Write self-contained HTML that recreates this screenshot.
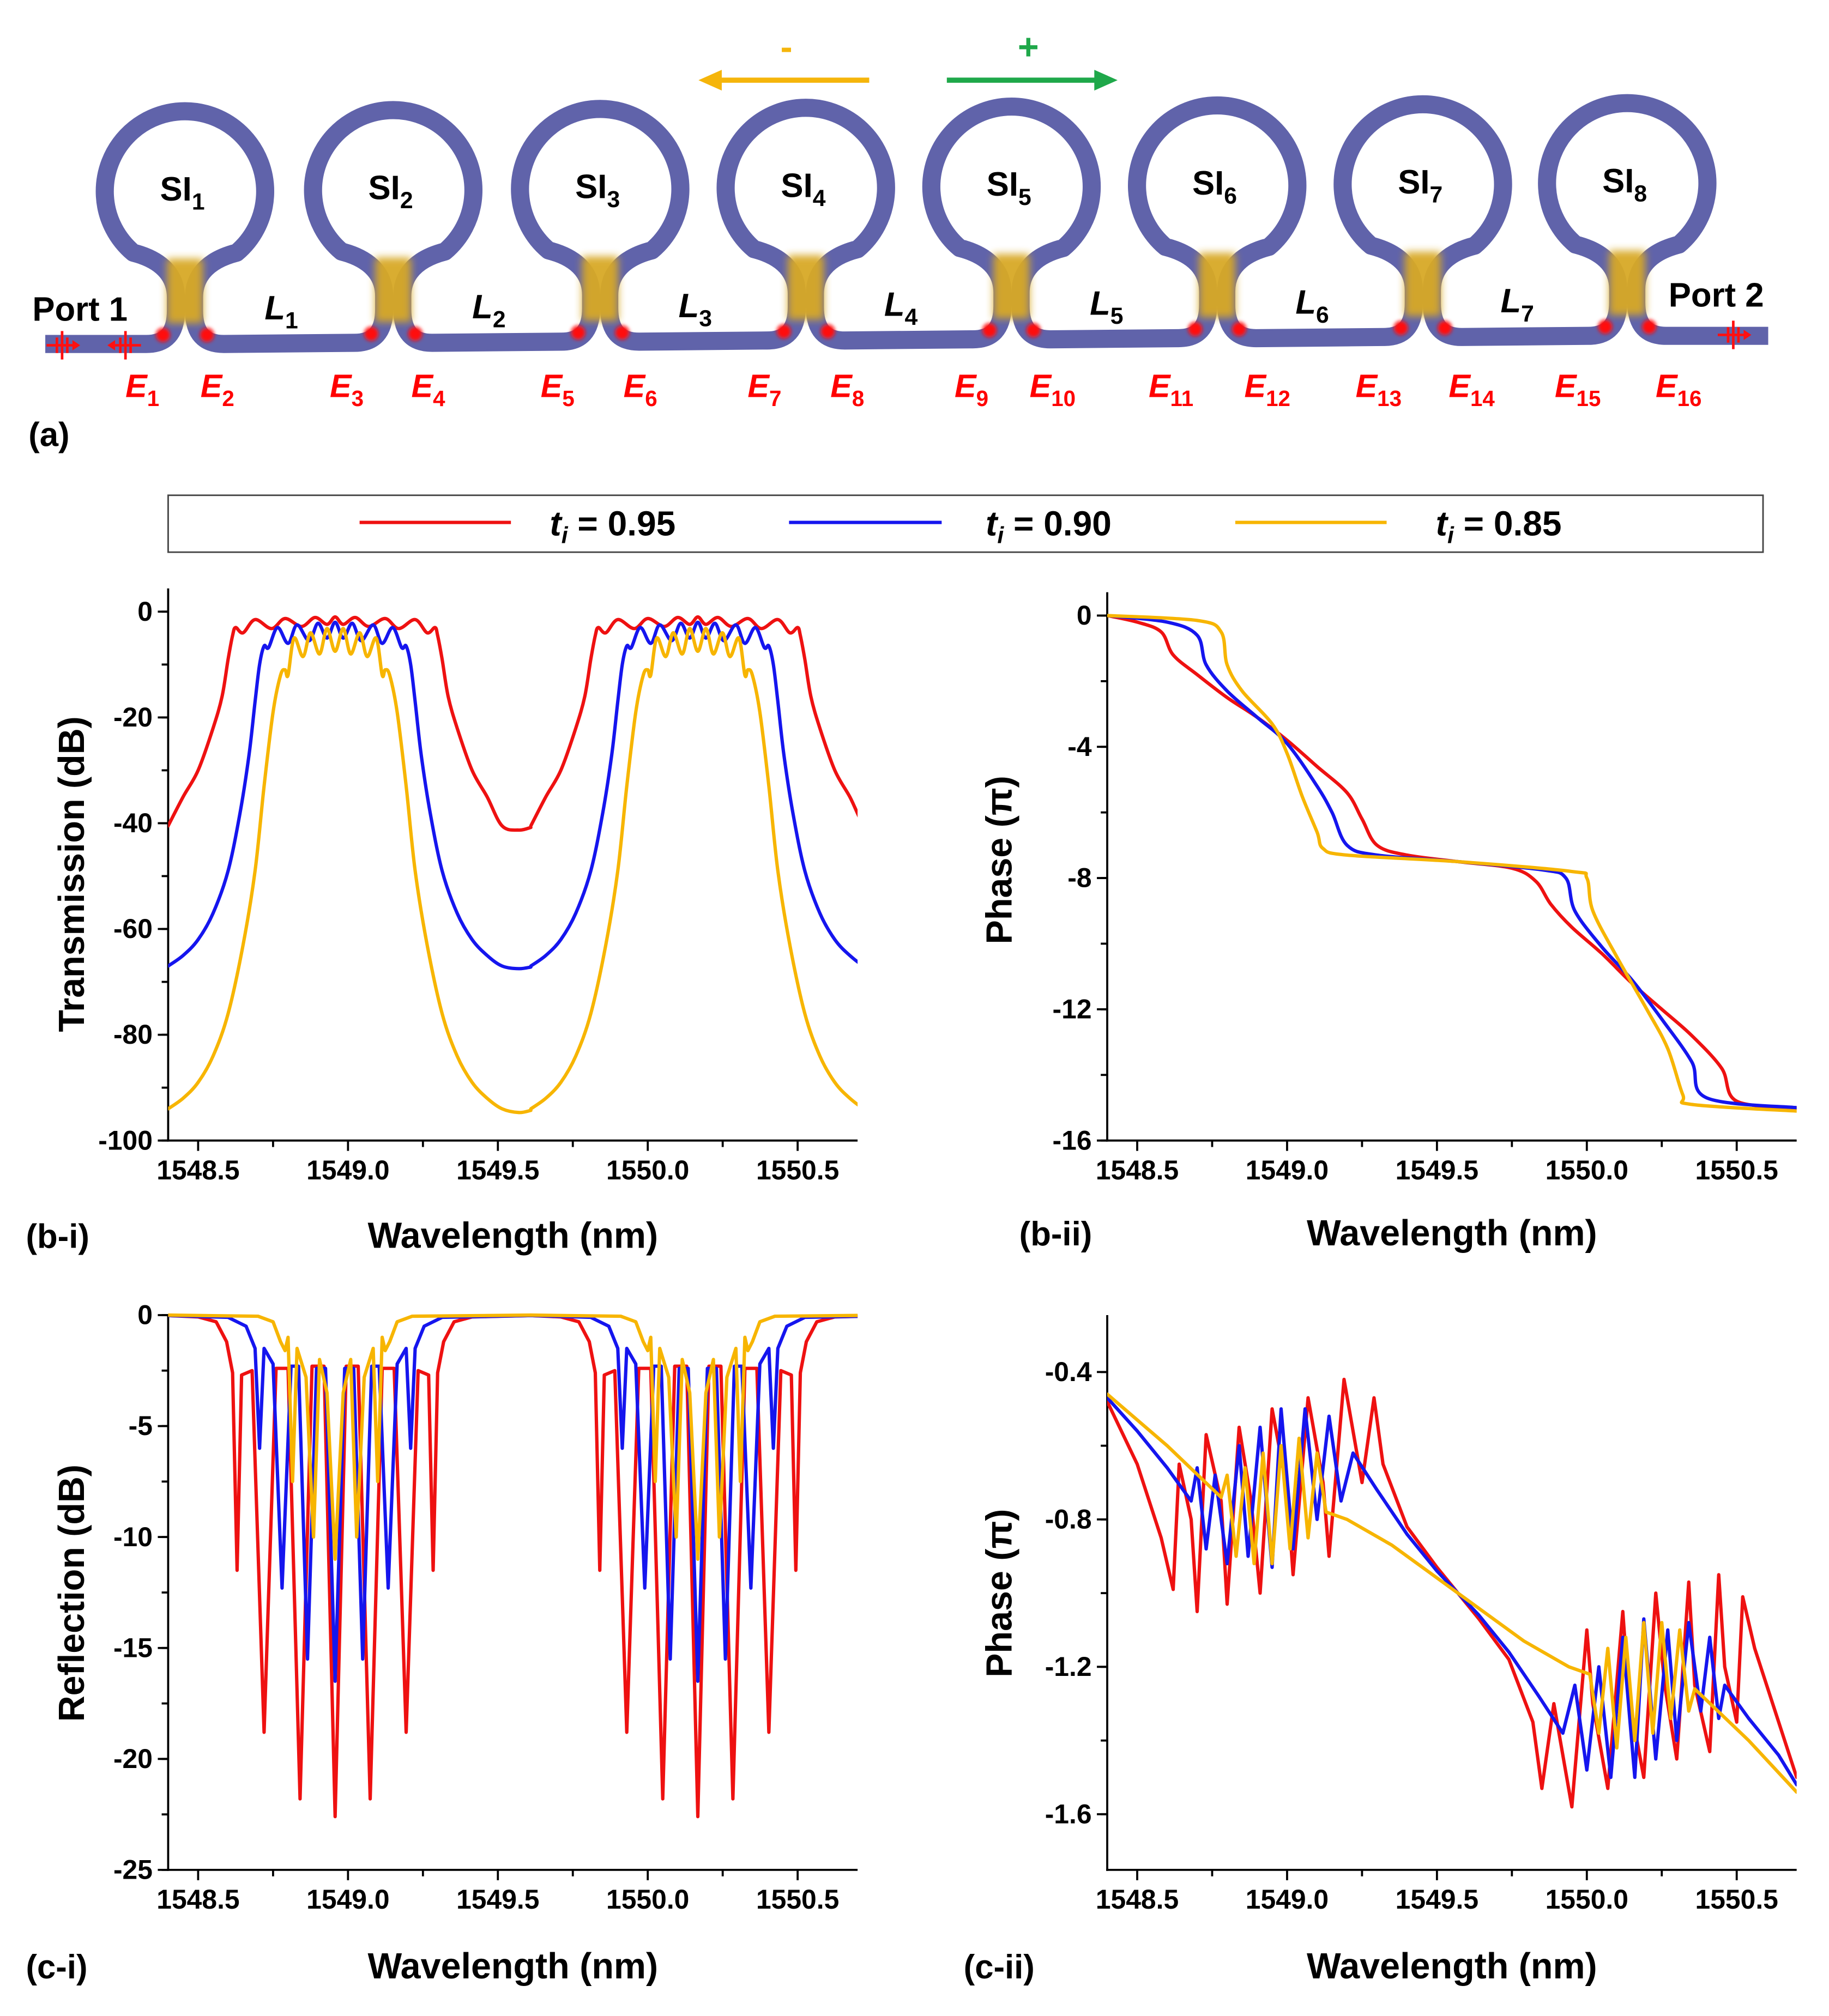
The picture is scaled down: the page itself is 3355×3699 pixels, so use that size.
<!DOCTYPE html>
<html><head><meta charset="utf-8"><style>
html,body{margin:0;padding:0;background:#fff;}
svg{display:block;}
text{font-family:"Liberation Sans",Arial,sans-serif;font-weight:bold;}
</style></head><body>
<svg id="fig" xmlns="http://www.w3.org/2000/svg" width="3355" height="3699" viewBox="0 0 1414 1559" preserveAspectRatio="none">
<defs>
<filter id="blur4" x="-50%" y="-50%" width="200%" height="200%"><feGaussianBlur stdDeviation="3"/></filter>
<filter id="blur2" x="-50%" y="-50%" width="200%" height="200%"><feGaussianBlur stdDeviation="1.5"/></filter>
</defs>
<g id="diagram"></g>
<g>
<line x1="556" y1="62" x2="672" y2="62" stroke="#f5b50b" stroke-width="4"/>
<polygon points="540,62 558,54 558,70" fill="#f5b50b"/>
<text x="608" y="46" font-size="28" fill="#f5b50b" text-anchor="middle">-</text>
<line x1="732" y1="62" x2="848" y2="62" stroke="#1fa84a" stroke-width="4"/>
<polygon points="864,62 846,54 846,70" fill="#1fa84a"/>
<text x="795" y="46" font-size="28" fill="#1fa84a" text-anchor="middle">+</text>
</g>
<text x="22" y="345" font-size="26">(a)</text>
<g>
<rect x="130" y="383" width="1233" height="44" fill="#fff" stroke="#444" stroke-width="1.2"/>
<g><line x1="278" y1="404" x2="395" y2="404" stroke="#ee1111" stroke-width="2.6"/>
<text x="425" y="414" font-size="27"><tspan font-style="italic">t</tspan><tspan font-style="italic" font-size="18" dy="6">i</tspan><tspan dy="-6"> = 0.95</tspan></text></g>
<g><line x1="610" y1="404" x2="728" y2="404" stroke="#1515ee" stroke-width="2.6"/>
<text x="762" y="414" font-size="27"><tspan font-style="italic">t</tspan><tspan font-style="italic" font-size="18" dy="6">i</tspan><tspan dy="-6"> = 0.90</tspan></text></g>
<g><line x1="955" y1="404" x2="1072" y2="404" stroke="#f7b500" stroke-width="2.6"/>
<text x="1110" y="414" font-size="27"><tspan font-style="italic">t</tspan><tspan font-style="italic" font-size="18" dy="6">i</tspan><tspan dy="-6"> = 0.85</tspan></text></g>
</g>
<g id="charts"></g>
</svg>
<script>
const xTickLabels = ["1548.5","1549.0","1549.5","1550.0","1550.5"];
const xTicks = [1548.5,1549.0,1549.5,1550.0,1550.5];
const bandOffsets = [0, 1.21];

const transRed = [[1548.40,-40.5],[1548.45,-35],[1548.50,-30],[1548.55,-22],[1548.58,-16],[1548.60,-9],[1548.615,-4.5],[1548.625,-3],[1548.65,-4],[1548.69,-1.5],[1548.745,-3.2],[1548.79,-1.3],[1548.845,-2.8],[1548.89,-1.1],[1548.93,-2.4],[1548.957,-1.0],[1548.984,-2.4],[1549.024,-1.1],[1549.069,-2.8],[1549.124,-1.3],[1549.169,-3.2],[1549.224,-1.5],[1549.264,-4],[1549.29,-3],[1549.299,-4.5],[1549.314,-9],[1549.334,-16],[1549.364,-22],[1549.414,-30],[1549.464,-35],[1549.514,-40.5],[1549.57,-41.3],[1549.61,-40.8]];
const transBlue = [[1548.40,-67],[1548.45,-65],[1548.50,-62],[1548.55,-57],[1548.60,-49],[1548.64,-38],[1548.67,-27],[1548.69,-17],[1548.705,-10],[1548.72,-6.5],[1548.735,-6.8],[1548.765,-3],[1548.80,-6],[1548.83,-2.5],[1548.87,-5.5],[1548.90,-2.2],[1548.93,-5],[1548.957,-2],[1548.984,-5],[1549.014,-2.2],[1549.044,-5.5],[1549.084,-2.5],[1549.114,-6],[1549.149,-3],[1549.179,-6.8],[1549.194,-6.5],[1549.209,-10],[1549.224,-17],[1549.244,-27],[1549.274,-38],[1549.314,-49],[1549.364,-57],[1549.414,-62],[1549.464,-65],[1549.514,-67],[1549.57,-67.5],[1549.61,-67.2]];
const transYellow = [[1548.40,-94],[1548.45,-92],[1548.50,-89],[1548.55,-84],[1548.60,-76],[1548.65,-63],[1548.69,-49],[1548.72,-33],[1548.75,-19],[1548.775,-12],[1548.79,-11],[1548.80,-12],[1548.82,-5],[1548.85,-8.5],[1548.875,-4],[1548.905,-8],[1548.93,-3.2],[1548.957,-7.5],[1548.984,-3.2],[1549.009,-8],[1549.039,-4],[1549.064,-8.5],[1549.094,-5],[1549.114,-12],[1549.124,-11],[1549.139,-12],[1549.164,-19],[1549.194,-33],[1549.224,-49],[1549.264,-63],[1549.314,-76],[1549.364,-84],[1549.414,-89],[1549.464,-92],[1549.514,-94],[1549.57,-94.7],[1549.61,-94.3]];

const phaseTRed = [[1548.4,0],[1548.5,-0.2],[1548.58,-0.5],[1548.62,-1.2],[1548.7,-1.8],[1548.8,-2.5],[1548.9,-3.1],[1549.0,-3.8],[1549.1,-4.6],[1549.2,-5.4],[1549.25,-6.2],[1549.3,-7.0],[1549.4,-7.3],[1549.57,-7.5],[1549.75,-7.7],[1549.83,-8.1],[1549.88,-8.8],[1549.95,-9.5],[1550.05,-10.3],[1550.15,-11.2],[1550.25,-12],[1550.35,-12.8],[1550.45,-13.8],[1550.5,-14.8],[1550.7,-15]];
const phaseTBlue = [[1548.4,0],[1548.6,-0.2],[1548.7,-0.6],[1548.73,-1.5],[1548.8,-2.3],[1548.9,-3.1],[1549.0,-3.9],[1549.1,-5.2],[1549.15,-6.0],[1549.2,-7.0],[1549.3,-7.3],[1549.57,-7.5],[1549.85,-7.75],[1549.93,-8.0],[1549.96,-9.0],[1550.05,-10.1],[1550.15,-11.1],[1550.25,-12.3],[1550.35,-13.6],[1550.4,-14.7],[1550.7,-15]];
const phaseTYellow = [[1548.4,0],[1548.7,-0.15],[1548.78,-0.5],[1548.8,-1.5],[1548.85,-2.3],[1548.95,-3.3],[1549.0,-4.2],[1549.05,-5.5],[1549.1,-6.6],[1549.12,-7.1],[1549.2,-7.3],[1549.57,-7.5],[1549.95,-7.8],[1550.0,-8.0],[1550.02,-9.0],[1550.1,-10.4],[1550.2,-12.0],[1550.27,-13.2],[1550.32,-14.6],[1550.35,-14.9],[1550.7,-15.1]];

const reflRed = [[1548.40,-0.02],[1548.50,-0.08],[1548.56,-0.3],[1548.595,-1.2],[1548.615,-2.6],[1548.63,-11.5],[1548.645,-2.7],[1548.68,-2.5],[1548.72,-18.8],[1548.76,-2.4],[1548.80,-2.4],[1548.84,-21.8],[1548.88,-2.3],[1548.92,-2.3],[1548.957,-22.6],[1548.994,-2.3],[1549.034,-2.3],[1549.074,-21.8],[1549.114,-2.4],[1549.154,-2.4],[1549.194,-18.8],[1549.234,-2.5],[1549.269,-2.7],[1549.284,-11.5],[1549.299,-2.6],[1549.319,-1.2],[1549.354,-0.3],[1549.414,-0.08],[1549.61,-0.02]];
const reflBlue = [[1548.40,-0.02],[1548.60,-0.1],[1548.66,-0.5],[1548.69,-1.5],[1548.705,-6],[1548.72,-1.5],[1548.75,-2.2],[1548.78,-12.3],[1548.81,-2.3],[1548.835,-2.3],[1548.865,-15.5],[1548.895,-2.4],[1548.925,-2.4],[1548.957,-16.5],[1548.989,-2.4],[1549.019,-2.4],[1549.049,-15.5],[1549.079,-2.3],[1549.104,-2.3],[1549.134,-12.3],[1549.164,-2.2],[1549.194,-1.5],[1549.209,-6],[1549.224,-1.5],[1549.254,-0.5],[1549.314,-0.1],[1549.61,-0.02]];
const reflYellow = [[1548.40,0],[1548.70,-0.05],[1548.75,-0.3],[1548.775,-1.2],[1548.79,-1.6],[1548.80,-1.0],[1548.815,-7.5],[1548.83,-1.5],[1548.86,-2.8],[1548.885,-10],[1548.905,-2.0],[1548.93,-3.5],[1548.957,-11],[1548.984,-3.5],[1549.009,-2.0],[1549.029,-10],[1549.054,-2.8],[1549.084,-1.5],[1549.099,-7.5],[1549.114,-1.0],[1549.124,-1.6],[1549.139,-1.2],[1549.164,-0.3],[1549.214,-0.05],[1549.61,0]];

const phaseRRed = [[1548.4,-0.48],[1548.5,-0.65],[1548.58,-0.85],[1548.62,-0.99],[1548.64,-0.65],[1548.68,-0.8],[1548.7,-1.05],[1548.73,-0.57],[1548.78,-0.75],[1548.8,-1.03],[1548.84,-0.55],[1548.88,-0.75],[1548.91,-1.0],[1548.95,-0.5],[1549.0,-0.72],[1549.02,-0.95],[1549.07,-0.47],[1549.12,-0.7],[1549.14,-0.9],[1549.19,-0.42],[1549.25,-0.7],[1549.29,-0.47],[1549.32,-0.65],[1549.4,-0.82],[1549.5,-0.93],[1549.57,-1.0],[1549.64,-1.07],[1549.74,-1.18],[1549.82,-1.35],[1549.85,-1.53],[1549.89,-1.3],[1549.95,-1.58],[1550.0,-1.1],[1550.02,-1.3],[1550.07,-1.53],[1550.12,-1.05],[1550.14,-1.28],[1550.19,-1.5],[1550.23,-1.0],[1550.26,-1.25],[1550.30,-1.45],[1550.34,-0.97],[1550.36,-1.25],[1550.41,-1.43],[1550.44,-0.95],[1550.46,-1.2],[1550.5,-1.35],[1550.52,-1.01],[1550.56,-1.15],[1550.64,-1.35],[1550.7,-1.5]];
const phaseRBlue = [[1548.4,-0.47],[1548.5,-0.56],[1548.6,-0.66],[1548.68,-0.75],[1548.7,-0.66],[1548.73,-0.88],[1548.76,-0.68],[1548.8,-0.92],[1548.84,-0.6],[1548.87,-0.9],[1548.91,-0.55],[1548.95,-0.93],[1548.98,-0.5],[1549.02,-0.88],[1549.06,-0.5],[1549.1,-0.8],[1549.14,-0.52],[1549.18,-0.75],[1549.22,-0.62],[1549.3,-0.72],[1549.4,-0.84],[1549.5,-0.94],[1549.57,-1.0],[1549.64,-1.06],[1549.74,-1.16],[1549.84,-1.28],[1549.92,-1.38],[1549.96,-1.25],[1550.0,-1.48],[1550.04,-1.2],[1550.08,-1.5],[1550.12,-1.12],[1550.16,-1.5],[1550.19,-1.07],[1550.23,-1.45],[1550.27,-1.1],[1550.3,-1.4],[1550.34,-1.08],[1550.38,-1.32],[1550.41,-1.12],[1550.44,-1.34],[1550.46,-1.25],[1550.54,-1.34],[1550.64,-1.44],[1550.7,-1.52]];
const phaseRYellow = [[1548.4,-0.46],[1548.6,-0.6],[1548.78,-0.74],[1548.8,-0.68],[1548.83,-0.9],[1548.86,-0.66],[1548.89,-0.92],[1548.92,-0.62],[1548.95,-0.92],[1548.98,-0.6],[1549.01,-0.88],[1549.04,-0.58],[1549.07,-0.85],[1549.1,-0.62],[1549.13,-0.78],[1549.2,-0.8],[1549.35,-0.87],[1549.57,-1.0],[1549.79,-1.13],[1549.94,-1.2],[1550.01,-1.22],[1550.04,-1.38],[1550.07,-1.15],[1550.1,-1.42],[1550.13,-1.12],[1550.16,-1.4],[1550.19,-1.08],[1550.22,-1.38],[1550.25,-1.08],[1550.28,-1.34],[1550.31,-1.1],[1550.34,-1.32],[1550.36,-1.26],[1550.54,-1.4],[1550.7,-1.54]];

const yTicksBi = [0,-20,-40,-60,-80,-100];
const yTickLabelsBi = ["0","-20","-40","-60","-80","-100"];
const yTicksBii = [0,-4,-8,-12,-16];
const yTickLabelsBii = ["0","-4","-8","-12","-16"];
const yTicksCi = [0,-5,-10,-15,-20,-25];
const yTickLabelsCi = ["0","-5","-10","-15","-20","-25"];
const yTicksCii = [-0.4,-0.8,-1.2,-1.6];
const yTickLabelsCii = ["-0.4","-0.8","-1.2","-1.6"];

const COLORS = {red:"#ee1111", blue:"#1515ee", yellow:"#f7b500"};
const NS = "http://www.w3.org/2000/svg";

function mk(tag, attrs, parent){
  const e = document.createElementNS(NS, tag);
  for (const k in attrs) e.setAttribute(k, attrs[k]);
  if (parent) parent.appendChild(e);
  return e;
}

function smoothPath(p){
  let s = `M${p[0][0].toFixed(2)},${p[0][1].toFixed(2)}`;
  for (let i=0;i<p.length-1;i++){
    const p0 = p[Math.max(0,i-1)], p1 = p[i], p2 = p[i+1], p3 = p[Math.min(p.length-1,i+2)];
    const t = 6;
    const c1x = p1[0] + (p2[0]-p0[0])/t, c1y = p1[1] + (p2[1]-p0[1])/t;
    const c2x = p2[0] - (p3[0]-p1[0])/t, c2y = p2[1] - (p3[1]-p1[1])/t;
    s += ` C${c1x.toFixed(2)},${c1y.toFixed(2)} ${c2x.toFixed(2)},${c2y.toFixed(2)} ${p2[0].toFixed(2)},${p2[1].toFixed(2)}`;
  }
  return s;
}

const charts = document.getElementById('charts');
let clipId = 0;

function makePanel(cfg){
  const g = mk('g', {}, charts);
  
  
  const sx = v => cfg.L + (v - cfg.xmin) / (cfg.xmax - cfg.xmin) * (cfg.R - cfg.L);
  const sy = v => cfg.T + (cfg.ymax - v) / (cfg.ymax - cfg.ymin) * (cfg.B - cfg.T);
  const ax = mk('g', {stroke:'#000','stroke-width':1.6}, g);
  
  
  mk('line', {x1:cfg.L, y1:cfg.T, x2:cfg.L, y2:cfg.B+0.8}, ax);
  mk('line', {x1:cfg.L-0.8, y1:cfg.B, x2:cfg.R, y2:cfg.B}, ax);
  for (let v = 1548.5; v <= 1550.71; v += 0.25){
    const major = Math.abs((v*2) - Math.round(v*2)) < 1e-6;
    mk('line', {x1:sx(v), y1:cfg.B, x2:sx(v), y2:cfg.B + (major?8:5)}, ax);
  }
  xTicks.forEach((v,i)=>{
    const t = mk('text', {x:sx(v), y:cfg.B+30, 'font-size':21, 'text-anchor':'middle'}, g);
    t.textContent = xTickLabels[i];
    
    
  });
  for (let v = cfg.yMinorStart; v >= cfg.ymin - 1e-9; v -= cfg.yMinorStep){
    if (v > cfg.ymax + 1e-9) continue;
    mk('line', {x1:cfg.L-5, y1:sy(v), x2:cfg.L, y2:sy(v)}, ax);
  }
  cfg.yTicks.forEach((v,i)=>{
    mk('line', {x1:cfg.L-8, y1:sy(v), x2:cfg.L, y2:sy(v)}, ax);
    const t = mk('text', {x:cfg.L-12, y:sy(v)+7, 'font-size':21, 'text-anchor':'end'}, g);
    t.textContent = cfg.yTickLabels[i];
    
    
  });
  const xt = mk('text', {x:(cfg.L+cfg.R)/2, y:cfg.xTitleY, 'font-size':28, 'text-anchor':'middle'}, g);
  xt.textContent = 'Wavelength (nm)';
  
  
  const yt = mk('text', {x:0, y:0, 'font-size':28, 'text-anchor':'middle', transform:`translate(${cfg.yTitleX},${cfg.yTitleY}) rotate(-90)`}, g);
  yt.textContent = cfg.yTitle;
  
  
  const pl = mk('text', {x:cfg.panelX, y:cfg.xTitleY, 'font-size':26}, g);
  pl.textContent = cfg.panelLabel;
  
  
  clipId++;
  const cp = mk('clipPath', {id:'clip'+clipId}, g);
  mk('rect', {x:cfg.L, y:cfg.T-10, width:cfg.R-cfg.L, height:cfg.B-cfg.T+10}, cp);
  const sg = mk('g', {'clip-path':`url(#clip${clipId})`, fill:'none', 'stroke-width':2.6, 'stroke-linejoin':'round', 'stroke-linecap':'round'}, g);
  cfg.series.forEach(s=>{
    const offs = s.periodic ? bandOffsets : [0];
    offs.forEach(o=>{
      const pts = s.data.map(d => [sx(d[0]+o), sy(d[1])]);
      let el;
      if (cfg.smooth){
        el = mk('path', {d:smoothPath(pts), stroke:COLORS[s.color]}, sg);
      } else {
        el = mk('polyline', {points:pts.map(p=>p[0].toFixed(2)+','+p[1].toFixed(2)).join(' '), stroke:COLORS[s.color]}, sg);
      }
      
      
    });
  });
}

makePanel({name:'transmission-chart', smooth:true, L:130, R:663, T:455, B:882, xmin:1548.4, xmax:1550.7, ymin:-100, ymax:4.4,
  yTicks:yTicksBi, yTickLabels:yTickLabelsBi, yMinorStart:0, yMinorStep:10,
  xTitleY:965, yTitle:'Transmission (dB)', yTitleX:65, yTitleY:676, panelX:20, panelLabel:'(b-i)',
  series:[{name:'transmission-095',color:'red',data:transRed,periodic:true},{name:'transmission-090',color:'blue',data:transBlue,periodic:true},{name:'transmission-085',color:'yellow',data:transYellow,periodic:true}]});

makePanel({name:'transmission-phase-chart', smooth:true, L:856, R:1389, T:458, B:882, xmin:1548.4, xmax:1550.7, ymin:-16, ymax:0.71,
  yTicks:yTicksBii, yTickLabels:yTickLabelsBii, yMinorStart:0, yMinorStep:2,
  xTitleY:963, yTitle:'Phase (π)', yTitleX:782, yTitleY:665, panelX:788, panelLabel:'(b-ii)',
  series:[{name:'tphase-095',color:'red',data:phaseTRed},{name:'tphase-090',color:'blue',data:phaseTBlue},{name:'tphase-085',color:'yellow',data:phaseTYellow}]});

makePanel({name:'reflection-chart', smooth:false, L:130, R:663, T:1017, B:1446, xmin:1548.4, xmax:1550.7, ymin:-25, ymax:0,
  yTicks:yTicksCi, yTickLabels:yTickLabelsCi, yMinorStart:0, yMinorStep:2.5,
  xTitleY:1530, yTitle:'Reflection (dB)', yTitleX:65, yTitleY:1232, panelX:20, panelLabel:'(c-i)',
  series:[{name:'reflection-095',color:'red',data:reflRed,periodic:true},{name:'reflection-090',color:'blue',data:reflBlue,periodic:true},{name:'reflection-085',color:'yellow',data:reflYellow,periodic:true}]});

makePanel({name:'reflection-phase-chart', smooth:false, L:856, R:1389, T:1017, B:1446, xmin:1548.4, xmax:1550.7, ymin:-1.751, ymax:-0.2456,
  yTicks:yTicksCii, yTickLabels:yTickLabelsCii, yMinorStart:-0.4, yMinorStep:0.2,
  xTitleY:1530, yTitle:'Phase (π)', yTitleX:782, yTitleY:1232, panelX:745, panelLabel:'(c-ii)',
  series:[{name:'rphase-095',color:'red',data:phaseRRed},{name:'rphase-090',color:'blue',data:phaseRBlue},{name:'rphase-085',color:'yellow',data:phaseRYellow}]});

// ---------- diagram ----------
const dg = document.getElementById('diagram');
const loopX = [143,304,464,623,782,941,1100,1258];
const yOff = i => -i*0.9;
let d = `M35,${266} `;
loopX.forEach((cx,i)=>{
  const o = yOff(i);
  const y = v => (v + o).toFixed(1);
  d += `L${cx-30},${y(266)} C${cx-15},${y(266)} ${cx-7},${y(258)} ${cx-7},${y(240)} L${cx-7},${y(230)} C${cx-7},${y(210)} ${cx-22},${y(200)} ${cx-40},${y(195.4)} A62 62 0 1 1 ${cx+40},${y(195.4)} C${cx+22},${y(200)} ${cx+7},${y(210)} ${cx+7},${y(230)} L${cx+7},${y(240)} C${cx+7},${y(258)} ${cx+15},${y(266)} ${cx+30},${y(266)} `;
});
d += `L1367,${(266+yOff(7)).toFixed(1)}`;
const wg = mk('path', {d:d, fill:'none', stroke:'#6063aa', 'stroke-width':14, 'stroke-linejoin':'round'}, dg);


loopX.forEach((cx,i)=>{
  const o = yOff(i);
  const c = mk('rect', {x:cx-14, y:200+o, width:28, height:50, fill:'#d8a928', opacity:0.95, filter:'url(#blur4)'}, dg);
  
  
  [-17,17].forEach(dx=>{
    const dot = mk('circle', {cx:cx+dx, cy:259+o, r:5.5, fill:'#ff1010', filter:'url(#blur2)'}, dg);
    
    
  });
  const t = mk('text', {x:cx-2, y:155+o, 'font-size':26, 'text-anchor':'middle'}, dg);
  t.innerHTML = `SI<tspan font-size="18" dy="7">${i+1}</tspan>`;
  
  
  if (i < 7){
    const lx = (cx + loopX[i+1]) / 2;
    const lt = mk('text', {x:lx-6, y:247+o, 'font-size':26, 'text-anchor':'middle', 'font-style':'italic'}, dg);
    lt.innerHTML = `L<tspan font-size="18" dy="7" font-style="normal">${i+1}</tspan>`;
    
    
  }
});
const eX = [97,155,255,318,418,482,578,642,738,796,888,962,1048,1120,1202,1280];
eX.forEach((x,i)=>{
  const t = mk('text', {x:x, y:307, 'font-size':25, 'font-style':'italic', fill:'#ff0000'}, dg);
  t.innerHTML = `E<tspan font-size="17" dy="7" font-style="normal">${i+1}</tspan>`;
  
  
});
const p1 = mk('text', {x:25, y:248, 'font-size':26}, dg);
p1.textContent = 'Port 1';


const p2 = mk('text', {x:1290, y:237, 'font-size':26}, dg);
p2.textContent = 'Port 2';


[[48,267,1],[97,267,-1],[1340,259,1]].forEach(p=>{
  const pg = mk('g', {stroke:'#ff1010','stroke-width':2, fill:'#ff1010'}, dg);
  
  
  mk('line', {x1:p[0]-12, y1:p[1], x2:p[0]+12, y2:p[1]}, pg);
  mk('line', {x1:p[0], y1:p[1]-11, x2:p[0], y2:p[1]+11}, pg);
  mk('line', {x1:p[0]-4, y1:p[1]-6, x2:p[0]-4, y2:p[1]+6}, pg);
  mk('line', {x1:p[0]+4, y1:p[1]-6, x2:p[0]+4, y2:p[1]+6}, pg);
  const hx = p[0] + 14*p[2];
  mk('polygon', {points:`${hx},${p[1]} ${hx-6*p[2]},${p[1]-4} ${hx-6*p[2]},${p[1]+4}`, stroke:'none'}, pg);
});
</script>
</body></html>
